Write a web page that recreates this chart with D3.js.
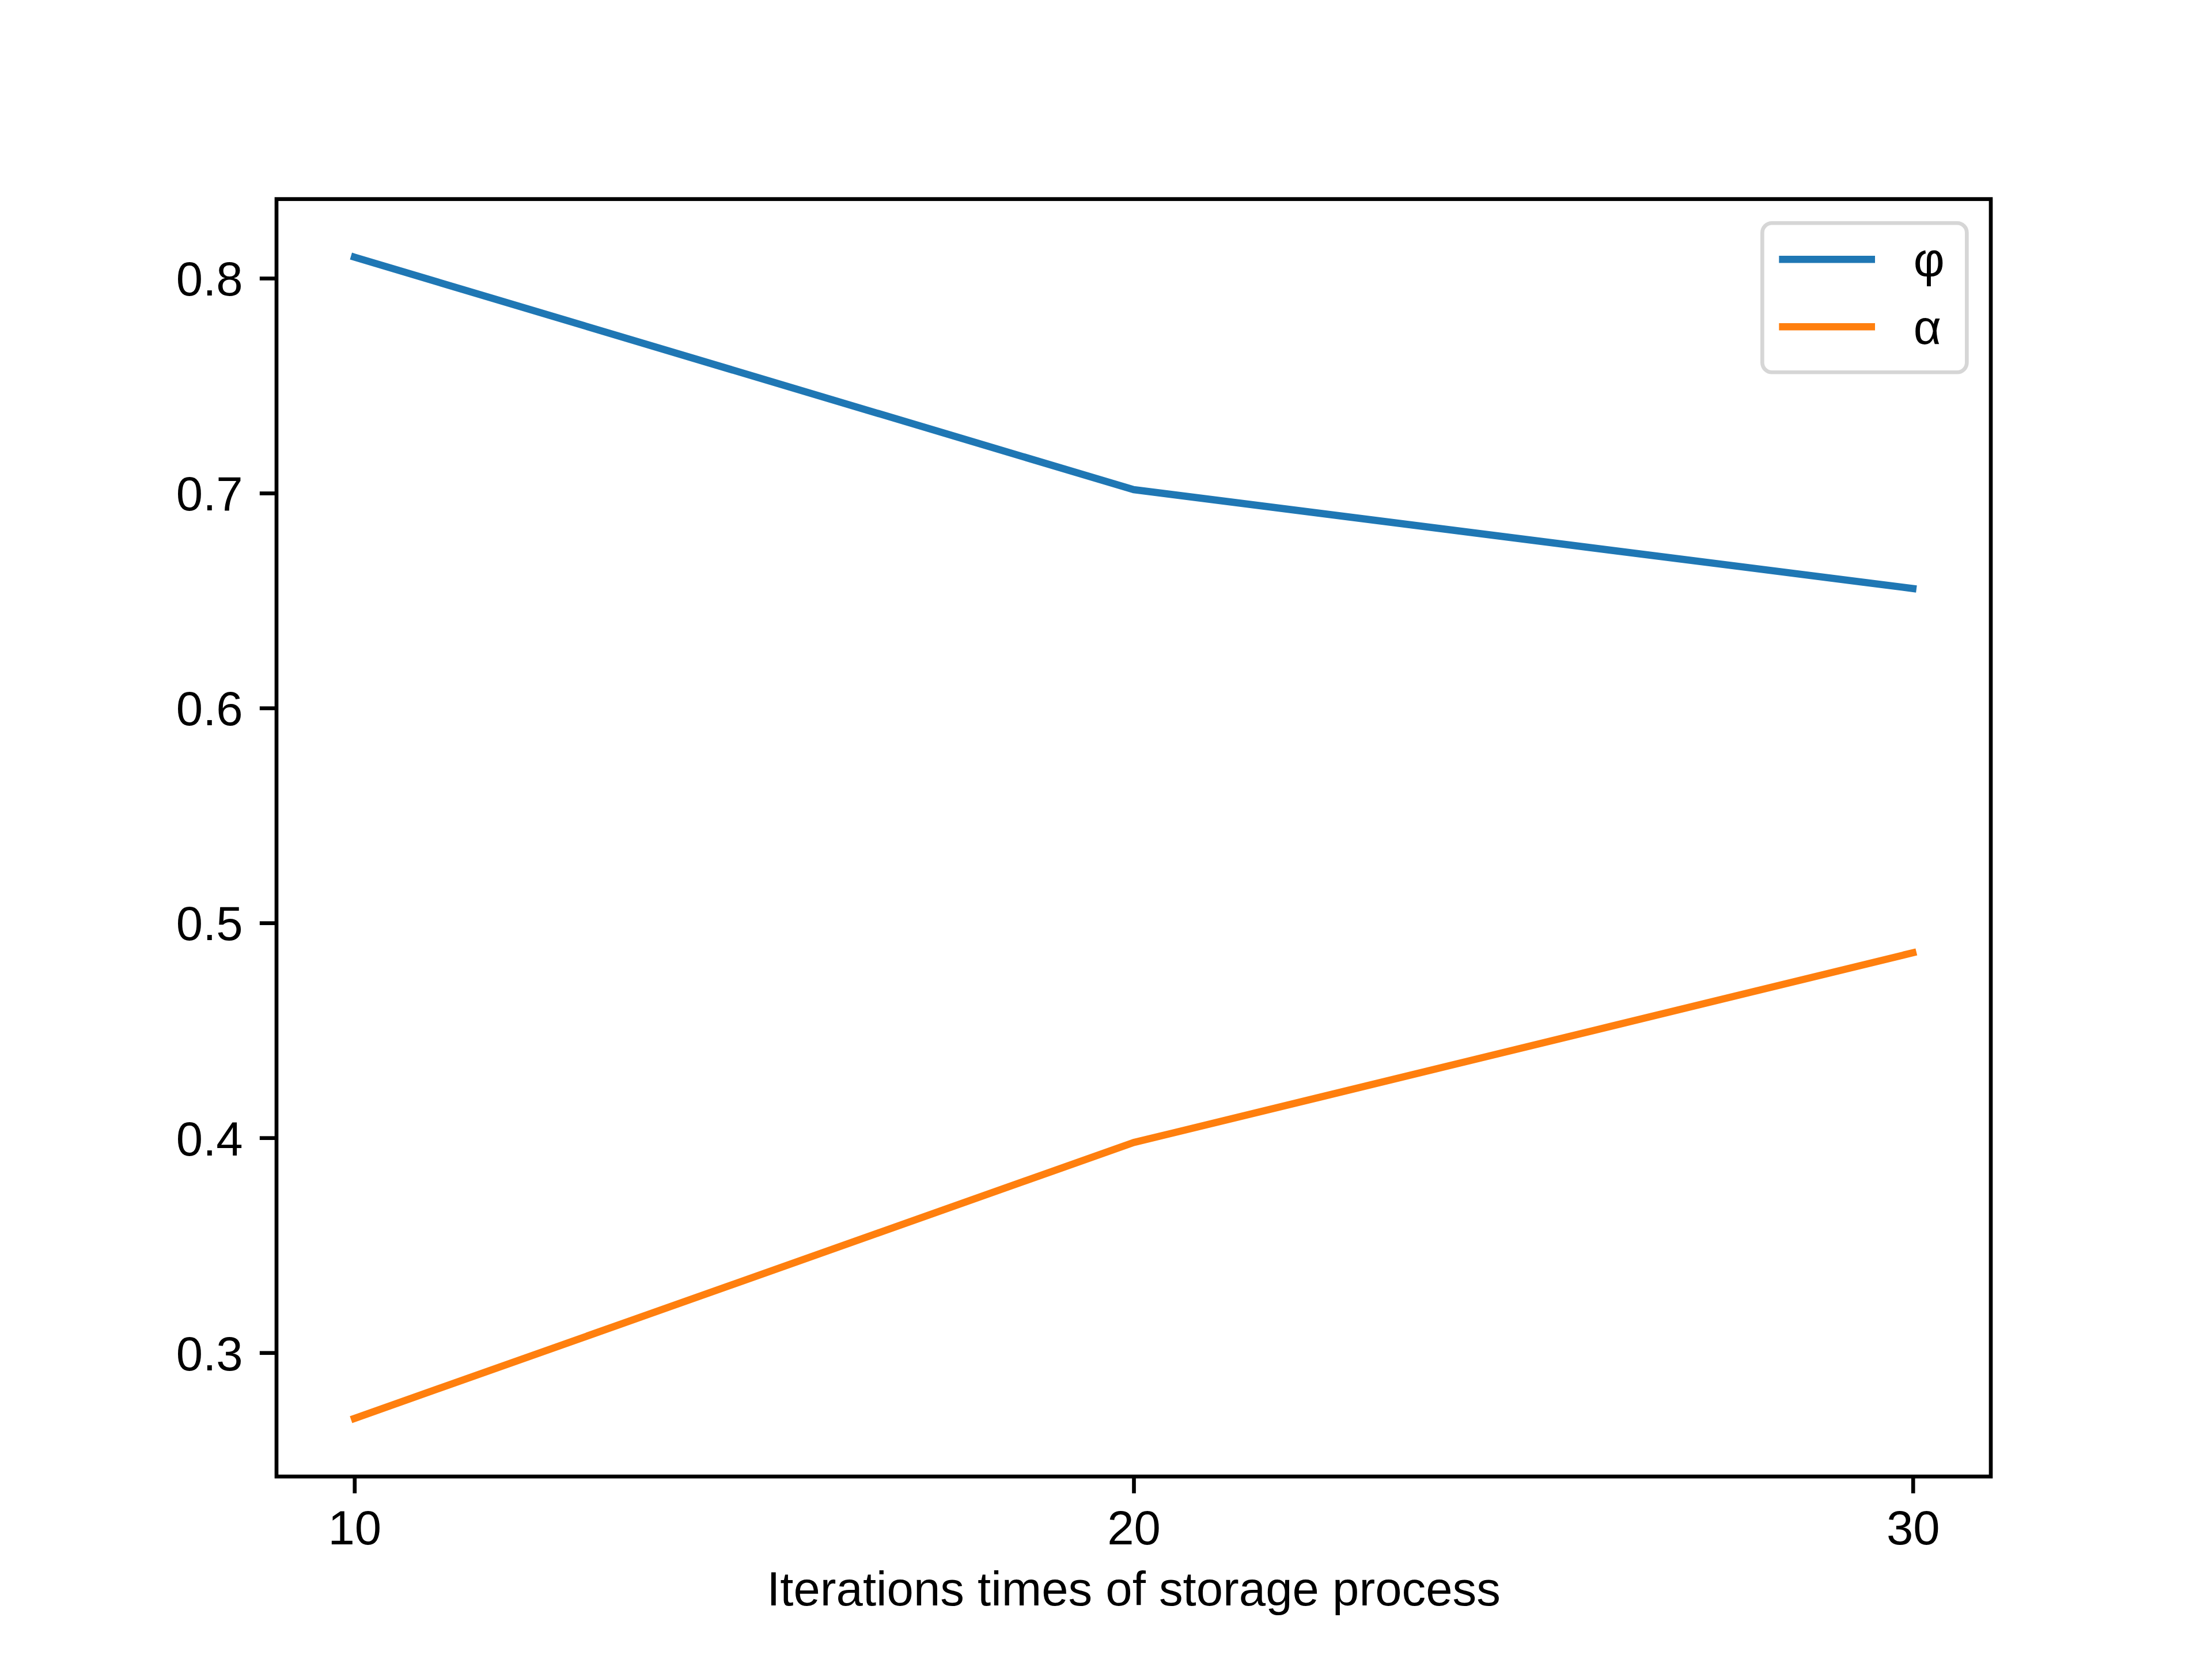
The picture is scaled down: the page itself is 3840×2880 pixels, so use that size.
<!DOCTYPE html>
<html>
<head>
<meta charset="utf-8">
<script src="https://cdn.jsdelivr.net/npm/d3@7"></script>
<style>
  html, body { margin: 0; padding: 0; background: #fff; }
  svg { display: block; }
  text { font-family: "Liberation Sans", Arial, sans-serif; fill: #000; }
</style>
</head>
<body>
<svg id="chart" width="3840" height="2880"></svg>
<script>
// ---- data ----
const iterations = [10, 20, 30];
const phiValues = [0.8098, 0.7016, 0.6556];
const alphaValues = [0.2694, 0.3978, 0.4861];
const seriesNames = ["φ", "α"];
const seriesColors = ["#1f77b4", "#ff7f0e"];
const xTickValues = [10, 20, 30];
const yTickValues = [0.3, 0.4, 0.5, 0.6, 0.7, 0.8];
const xLabel = "Iterations times of storage process";

(function () {
  // ---- layout (matplotlib defaults at 600 dpi) ----
  const axLeft = 480, axRight = 3456, axTop = 345.6, axBottom = 2563.2;
  const pt = 600 / 72;
  const fs = 10 * pt;          // font size
  const lw = 1.5 * pt;         // line width
  const spineW = 0.8 * pt;
  const tickLen = 3.5 * pt;
  const tickPad = 3.5 * pt;

  const svg = d3.select("#chart");

  function padded(ext) {
    const d = ext[1] - ext[0];
    return [ext[0] - 0.05 * d, ext[1] + 0.05 * d];
  }

  const x = d3.scaleLinear().domain(padded(d3.extent(iterations))).range([axLeft, axRight]);
  const allY = phiValues.concat(alphaValues);
  const y = d3.scaleLinear().domain(padded(d3.extent(allY))).range([axBottom, axTop]);

  // clip
  svg.append("defs").append("clipPath").attr("id", "clip")
    .append("rect").attr("x", axLeft).attr("y", axTop)
    .attr("width", axRight - axLeft).attr("height", axBottom - axTop);

  // lines
  const series = [phiValues, alphaValues];
  const line = d3.line().x((d, i) => x(iterations[i])).y(d => y(d));
  svg.append("g").attr("clip-path", "url(#clip)")
    .selectAll("path").data(series).join("path")
    .attr("d", d => line(d))
    .attr("fill", "none")
    .attr("stroke", (d, i) => seriesColors[i])
    .attr("stroke-width", lw)
    .attr("stroke-linecap", "square")
    .attr("stroke-linejoin", "round");

  // axes
  const xAxis = d3.axisBottom(x).tickValues(xTickValues).tickFormat(d3.format("d"))
    .tickSizeInner(tickLen).tickSizeOuter(0).tickPadding(tickPad);
  const gx = svg.append("g").attr("transform", `translate(0,${axBottom})`).call(xAxis);
  gx.select(".domain").remove();
  gx.selectAll(".tick line").attr("stroke", "#000").attr("stroke-width", spineW);
  gx.selectAll(".tick text").attr("font-size", fs).attr("font-family", null).attr("fill", "#000");

  const yAxis = d3.axisLeft(y).tickValues(yTickValues).tickFormat(d3.format(".1f"))
    .tickSizeInner(tickLen).tickSizeOuter(0).tickPadding(tickPad);
  const gy = svg.append("g").attr("transform", `translate(${axLeft},0)`).call(yAxis);
  gy.select(".domain").remove();
  gy.selectAll(".tick line").attr("stroke", "#000").attr("stroke-width", spineW);
  gy.selectAll(".tick text").attr("font-size", fs).attr("font-family", null)
    .attr("fill", "#000").attr("dy", "0.358em");

  // frame
  svg.append("rect")
    .attr("x", axLeft).attr("y", axTop)
    .attr("width", axRight - axLeft).attr("height", axBottom - axTop)
    .attr("fill", "none").attr("stroke", "#000").attr("stroke-width", spineW)
    .attr("stroke-linejoin", "miter");

  // x label
  svg.append("text")
    .attr("x", (axLeft + axRight) / 2).attr("y", 2787)
    .attr("text-anchor", "middle").attr("font-size", fs)
    .text(xLabel);

  // legend
  const lgRight = axRight - 0.5 * fs;
  const lgTop = axTop + 0.5 * fs;
  const lgW = 355, lgH = 259;
  const lgLeft = lgRight - lgW;
  const lg = svg.append("g");
  lg.append("rect")
    .attr("x", lgLeft).attr("y", lgTop).attr("width", lgW).attr("height", lgH)
    .attr("rx", 0.2 * fs).attr("ry", 0.2 * fs)
    .attr("fill", "#fff").attr("fill-opacity", 0.8)
    .attr("stroke", "#cccccc").attr("stroke-opacity", 0.8).attr("stroke-width", spineW);
  const handleX0 = lgLeft + 29;
  const handleX1 = handleX0 + 2 * fs;
  const rowY = [lgTop + 63, lgTop + 180];
  const items = lg.selectAll("g.item").data(seriesNames).join("g").attr("class", "item");
  items.append("line")
    .attr("x1", handleX0).attr("x2", handleX1)
    .attr("y1", (d, i) => rowY[i]).attr("y2", (d, i) => rowY[i])
    .attr("stroke", (d, i) => seriesColors[i]).attr("stroke-width", lw);
  items.append("text")
    .attr("x", handleX1 + 0.8 * fs)
    .attr("y", (d, i) => rowY[i] + 0.358 * fs)
    .attr("font-size", fs)
    .text(d => d);
})();
</script>
</body>
</html>
